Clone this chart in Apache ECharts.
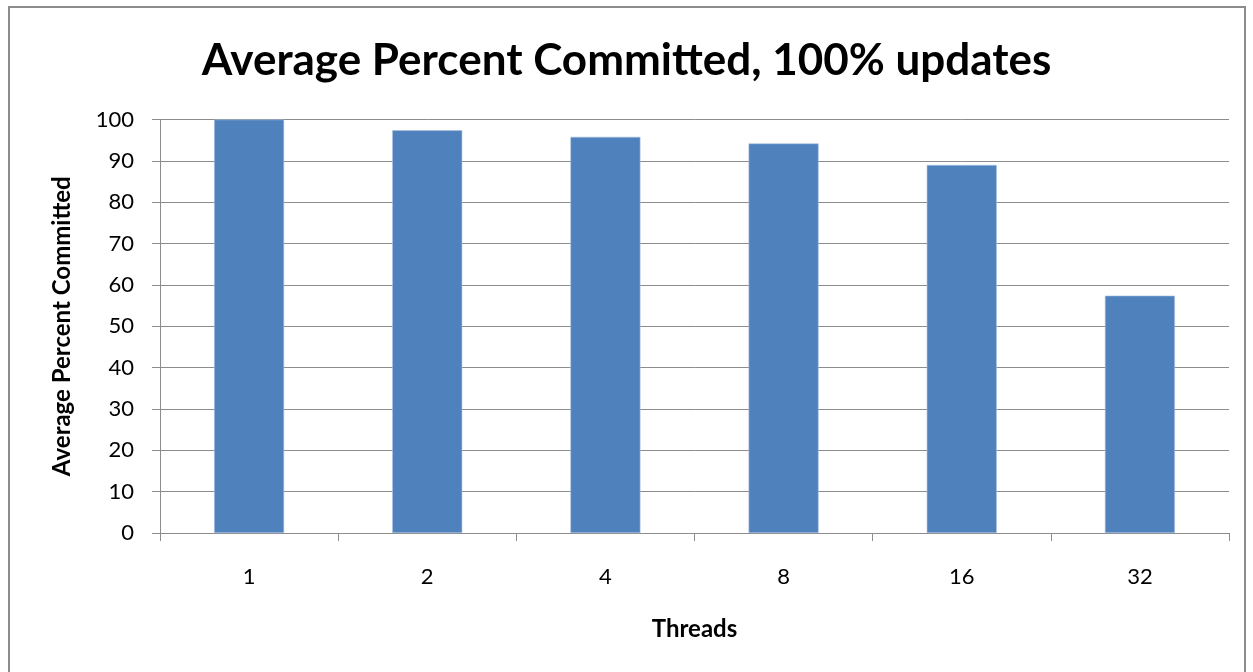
<!DOCTYPE html>
<html><head><meta charset="utf-8">
<script src="https://cdn.jsdelivr.net/npm/echarts@6/dist/echarts.min.js"></script>
<style>html,body{margin:0;padding:0;background:#fff;}#c{width:1253px;height:672px;}
#frame{position:absolute;left:8px;top:6px;width:1238px;height:700px;border:2px solid #8c8c8c;box-sizing:border-box;pointer-events:none;}</style>
</head><body><div id="c"></div><div id="frame"></div>
<script>
const categories = ['1', '2', '4', '8', '16', '32'];
const values = [100, 97.4, 95.8, 94.2, 89.0, 57.4];
const yTicks = [0, 10, 20, 30, 40, 50, 60, 70, 80, 90, 100];
const titleText = 'Average Percent Committed, 100% updates';
const chart = echarts.init(document.getElementById('c'));
const font = 'Lato, "Open Sans", sans-serif';
chart.setOption({
  animation: false,
  title: { text: titleText, left: 'center', top: 34,
    textStyle: { fontFamily: font, fontWeight: 'bold', fontSize: 44, color: '#000' } },
  grid: { left: 160, right: 24, top: 119.5, bottom: 139 },
  xAxis: { type: 'category', data: categories, name: 'Threads', nameLocation: 'middle', nameGap: 84,
    nameTextStyle: { fontFamily: font, fontWeight: 'bold', fontSize: 24, color: '#000' },
    axisLine: { lineStyle: { color: '#8c8c8c', width: 1 } },
    axisTick: { show: true, length: 8, lineStyle: { color: '#8c8c8c' } },
    axisLabel: { fontFamily: font, fontSize: 22, color: '#000', margin: 33 } },
  yAxis: { type: 'value', min: yTicks[0], max: yTicks[yTicks.length - 1], interval: 10,
    name: 'Average Percent Committed', nameLocation: 'middle', nameGap: 86, nameRotate: 90,
    nameTextStyle: { fontFamily: font, fontWeight: 'bold', fontSize: 24, color: '#000' },
    axisLine: { show: true, lineStyle: { color: '#8c8c8c', width: 1 } },
    axisTick: { show: true, length: 8, lineStyle: { color: '#8c8c8c' } },
    splitLine: { lineStyle: { color: '#8c8c8c', width: 1 } },
    axisLabel: { fontFamily: font, fontSize: 22, color: '#000', margin: 26 } },
  series: [{ type: 'bar', data: values, barWidth: '39.3%',
    itemStyle: { color: '#4f81bd', borderColor: '#a9c1e0', borderWidth: 0.6 } }]
});
</script></body></html>
